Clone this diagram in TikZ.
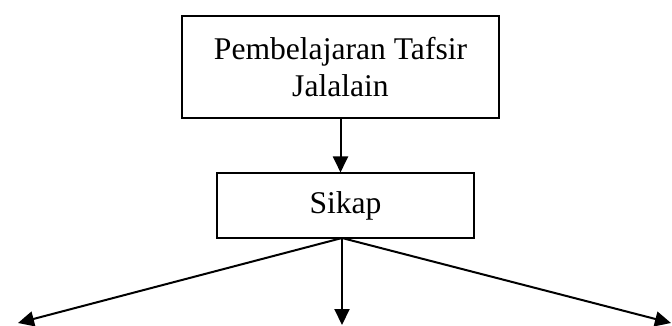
\documentclass[tikz,border=0pt]{standalone}
\usepackage{fontspec}
\setmainfont{Liberation Serif}
\usetikzlibrary{arrows.meta}
\begin{document}
\begin{tikzpicture}[x=1pt,y=-1pt,
  box/.style={draw, line width=1.1pt, inner sep=0pt, align=center,
    font=\fontsize{31.6}{37}\selectfont},
  arr/.style={line width=2pt, -{Triangle[length=16pt,width=15pt]}}]
\useasboundingbox (0,0) rectangle (672,325);
\node[box, minimum width=317pt, minimum height=102pt] (top) at (340.5,67) {Pembelajaran Tafsir\\Jalalain};
\node[box, minimum width=257pt, minimum height=65pt] (s) at (345.5,205.5) {Sikap};
\coordinate (L) at (18,323);
\coordinate (M) at (342,325);
\coordinate (R) at (671,323);
\coordinate (o) at (342,238);
\draw[arr] (top.south) -- (top.south |- s.north);
\draw[arr] (o) -- (L);
\draw[arr] (o) -- (M);
\draw[arr] (o) -- (R);
\end{tikzpicture}
\end{document}
